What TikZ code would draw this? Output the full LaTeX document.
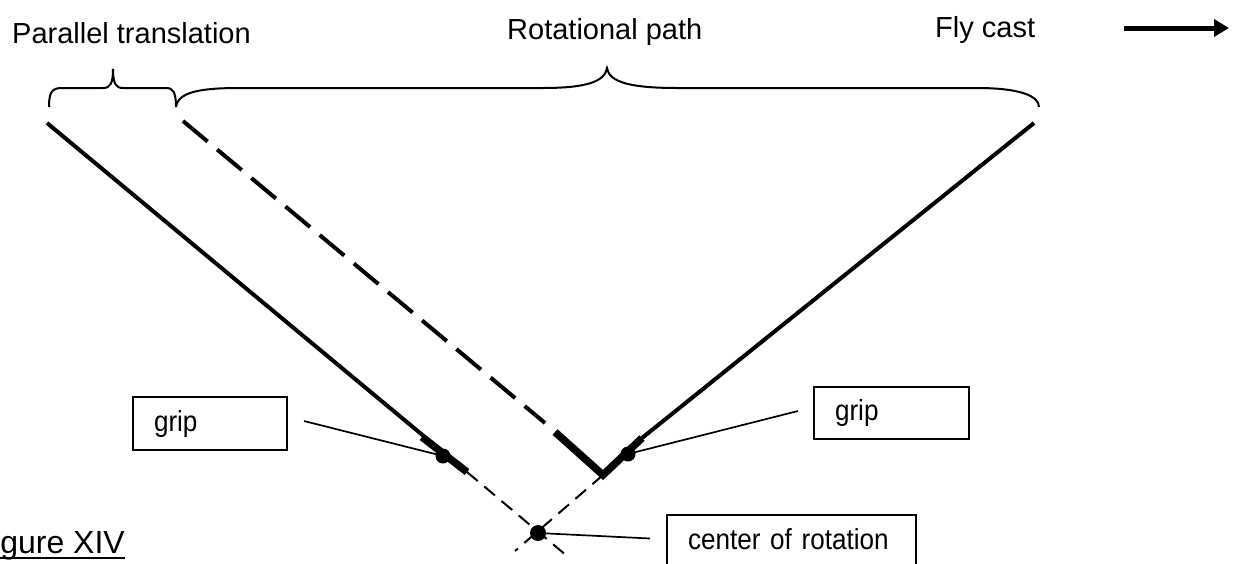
\documentclass[tikz,border=0pt]{standalone}
\usepackage{fontspec}
\setmainfont{Liberation Sans}
\newfontfamily\boxFont[FakeStretch=0.9]{Liberation Sans}
\usetikzlibrary{arrows.meta}

\begin{document}
\begin{tikzpicture}[x=1pt, y=-1pt,
    titleText/.style={inner sep=0pt, anchor=base west, font=\fontsize{29}{34}\selectfont},
    labelBox/.style={draw=borderColour, line width=2pt, anchor=north west, minimum height=53pt,
        inner xsep=21pt, inner ysep=0pt, text height=15pt, text depth=0pt, align=left,
        font=\boxFont\fontsize{29}{34}\selectfont},
    gripDot/.style={circle, fill=borderColour, inner sep=0pt, minimum size=15pt},
    rodLine/.style={draw=borderColour, line width=4pt},
    gripLine/.style={draw=borderColour, line width=7.5pt},
    axisLine/.style={draw=borderColour, line width=2pt, dash pattern=on 14pt off 8.5pt},
    leaderLine/.style={draw=borderColour, line width=1.7pt},
    braceLine/.style={draw=borderColour, line width=2pt}]
    % Define colours
    \definecolor{borderColour}{HTML}{000000}

    % Fix the page size
    \useasboundingbox (0,0) rectangle (1234,563);

    % Define coordinates for the three rod positions
    \coordinate (leftTop) at (47,123);
    \coordinate (leftGripA) at (422,437);
    \coordinate (leftGripB) at (467,472);
    \coordinate (leftEnd) at (567,556);
    \coordinate (midTop) at (183,121);
    \coordinate (midDashEnd) at (545,423);
    \coordinate (midGrip) at (555,432);
    \coordinate (vBottom) at (603,475);
    \coordinate (rightTop) at (1034,123);
    \coordinate (rightGrip) at (642,438);
    \coordinate (rightEnd) at (515,551);

    % Draw left rod
    \draw[rodLine] (leftTop) -- (leftGripB);
    \draw[gripLine] (leftGripA) -- (leftGripB);
    \draw[axisLine] (leftGripB) -- (leftEnd);

    % Draw middle rod and right rod
    \draw[rodLine, dash pattern=on 32pt off 12.5pt] (midTop) -- (midDashEnd);
    \draw[rodLine] (rightTop) -- (rightGrip);
    \draw[gripLine] (midGrip) -- (vBottom) -- (rightGrip);
    \draw[axisLine] (vBottom) -- (rightEnd);

    % Draw braces
    \draw[braceLine] (49,107) .. controls (49,92) and (52,88) .. (62,88) -- (103,88)
        .. controls (110,88) and (113,84) .. (113,69)
        .. controls (113,84) and (116,88) .. (123,88) -- (166,88)
        .. controls (173,88) and (176,92) .. (176,107);
    \draw[braceLine] (176,107) .. controls (178,92) and (200,88) .. (240,88) -- (543,88)
        .. controls (585,88) and (605,82) .. (607,68)
        .. controls (609,82) and (630,88) .. (677,88) -- (977,88)
        .. controls (1020,88) and (1039,96) .. (1039,107);

    % Titles
    \node[titleText] (parallelTitle) at (12,43) {Parallel translation};
    \node[titleText] (rotationTitle) at (507,39) {Rotational path};
    \node[titleText] (castTitle) at (935,37) {Fly cast};

    % Cast direction arrow
    \coordinate (castStart) at (1124,28);
    \coordinate (castEnd) at (1229,28);
    \draw[draw=borderColour, line width=5pt, -{Triangle[length=15pt,width=17pt]}] (castStart) -- (castEnd);

    % Grip points and centre of rotation
    \node[gripDot] (dotL) at (443,456) {};
    \node[gripDot] (dotR) at (628,454) {};
    \node[gripDot, minimum size=16pt] (dotC) at (538,533) {};

    % Label boxes
    \node[labelBox, text width=112pt] (gripL) at (132,396) {grip};
    \node[labelBox, text width=113pt, minimum height=52pt] (gripR) at (813,386) {grip};
    \node[labelBox, text width=207pt] (centreBox) at (666,514) {center of rotation};

    % Leader lines
    \draw[leaderLine] ([shift={(16,-2.5)}]gripL.east) -- (dotL.center);
    \draw[leaderLine] ([shift={(-15,-2)}]gripR.west) -- (dotR.center);
    \draw[leaderLine] ([shift={(-16,-3)}]centreBox.west) -- (dotC.center);

    % Figure caption
    \node[titleText, anchor=base east, font=\fontsize{32}{37}\selectfont] (figLabel) at (125,553) {Figure XIV};
    \draw[draw=borderColour, line width=2pt] ([yshift=-5pt]figLabel.base west) -- ([yshift=-5pt]figLabel.base east);

\end{tikzpicture}
\end{document}
